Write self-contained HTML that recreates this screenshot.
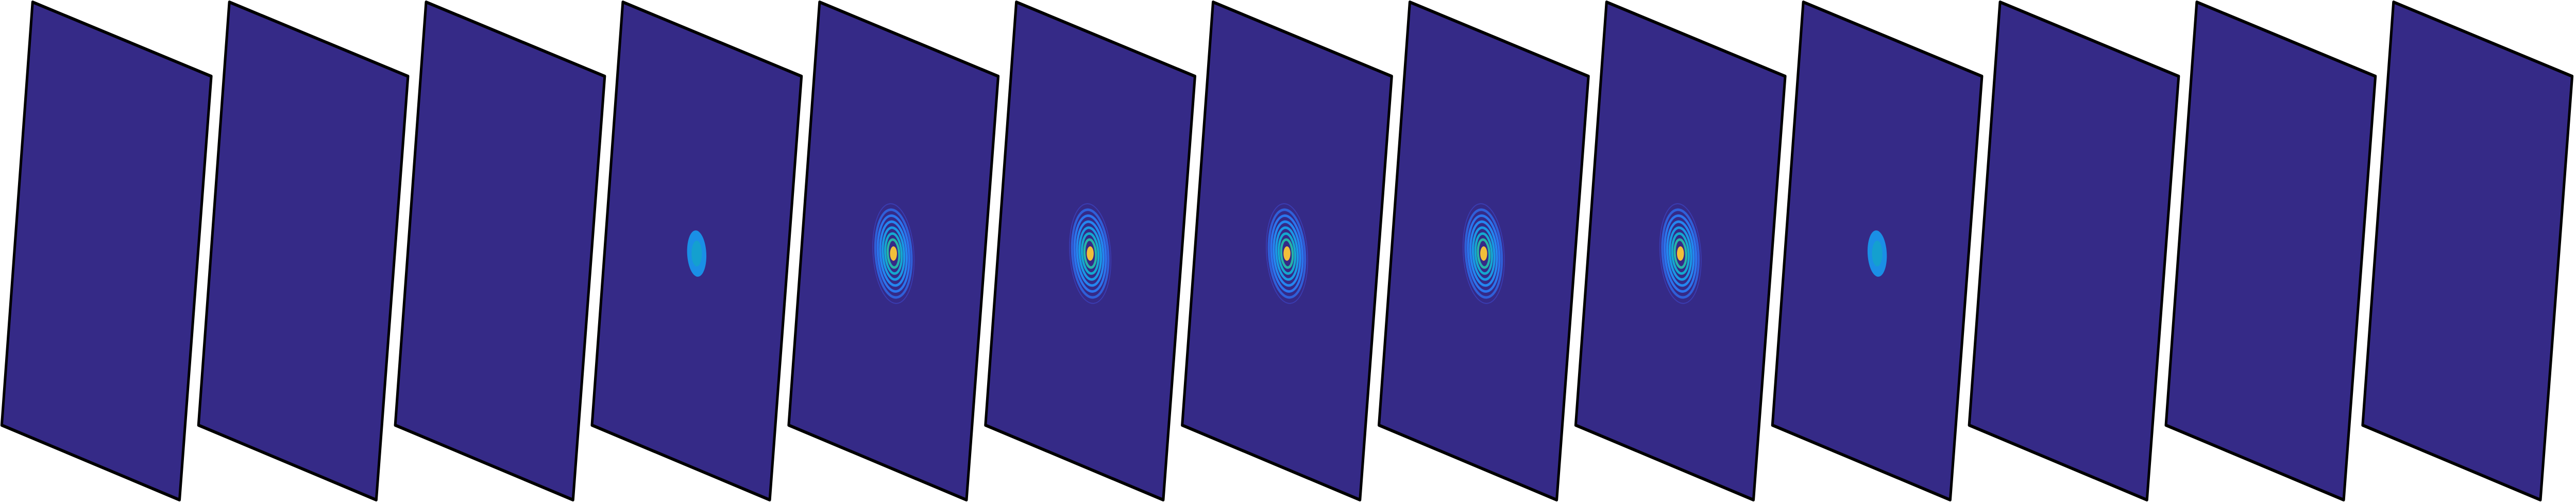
<!DOCTYPE html>
<html><head><meta charset="utf-8">
<style>
html,body{margin:0;padding:0;background:#fff;width:100%;height:100%;overflow:hidden;}
svg{display:block;position:absolute;left:0;top:0;width:100vw;height:100vh;}
</style>
</head><body>
<svg id="chart" viewBox="0 0 5926 976" preserveAspectRatio="none" xmlns="http://www.w3.org/2000/svg">
<g id="panels"></g>
</svg>
<script>
// frame indices and peak intensity of the beam spot per frame
const frames = [1,2,3,4,5,6,7,8,9,10,11,12,13];
const intensity = [0,0,0,0.35,1,1,1,1,1,0.35,0,0,0];

const NS = 'http://www.w3.org/2000/svg';
const g = document.getElementById('panels');
const x0 = 75, period = 452.6;
function panelX(i){ return x0 + i*period; }

const ringCols = ['#3a3db3','#2f5fd8','#2b74ec','#2486ef','#1a98e4','#14a8cf','#25b4a8'];

frames.forEach((f,i)=>{
  const tx = panelX(i);
  const grp = document.createElementNS(NS,'g');
  
  
  grp.setAttribute('transform','translate('+tx+',4)');
  const poly = document.createElementNS(NS,'polygon');
  
  
  poly.setAttribute('points','0,0 411,144 338,966 -71,821');
  poly.setAttribute('fill','#352a87');
  poly.setAttribute('stroke','#000');
  poly.setAttribute('stroke-width','6');
  poly.setAttribute('stroke-linejoin','round');
  grp.appendChild(poly);
  const v = intensity[i];
  const cx = 170, cy = 488;
  if (v > 0 && v < 0.6) {
    const e = document.createElementNS(NS,'ellipse');
    
    
    e.setAttribute('cx',cx); e.setAttribute('cy',cy);
    e.setAttribute('rx',22*v/0.35); e.setAttribute('ry',45*v/0.35);
    e.setAttribute('fill','#1a8fe6');
    e.setAttribute('transform','rotate(-4 '+cx+' '+cy+')');
    grp.appendChild(e);
    const c = document.createElementNS(NS,'ellipse');
    
    
    c.setAttribute('cx',cx); c.setAttribute('cy',cy);
    c.setAttribute('rx',12*v/0.35); c.setAttribute('ry',25*v/0.35);
    c.setAttribute('fill','#13a6c4'); c.setAttribute('opacity','0.7');
    grp.appendChild(c);
  } else if (v >= 0.6) {
    const rxMax = 47*v, ryMax = 97*v;
    const n = ringCols.length;
    for (let k=0;k<n;k++){
      const fr = 1 - k*0.12;
      const r = document.createElementNS(NS,'ellipse');
      
      
      r.setAttribute('cx',cx); r.setAttribute('cy',cy);
      r.setAttribute('rx',rxMax*fr); r.setAttribute('ry',ryMax*fr);
      r.setAttribute('fill','none');
      r.setAttribute('stroke',ringCols[k]);
      r.setAttribute('stroke-width', k===0 ? 2 : 5);
      r.setAttribute('transform','rotate(-5 '+cx+' '+cy+')');
      grp.appendChild(r);
    }
    const core = document.createElementNS(NS,'ellipse');
    
    
    core.setAttribute('cx',cx); core.setAttribute('cy',cy);
    core.setAttribute('rx',8*v); core.setAttribute('ry',14*v);
    core.setAttribute('fill','#f2bf3a');
    grp.appendChild(core);
  }
  g.appendChild(grp);
});
</script>
</body></html>
